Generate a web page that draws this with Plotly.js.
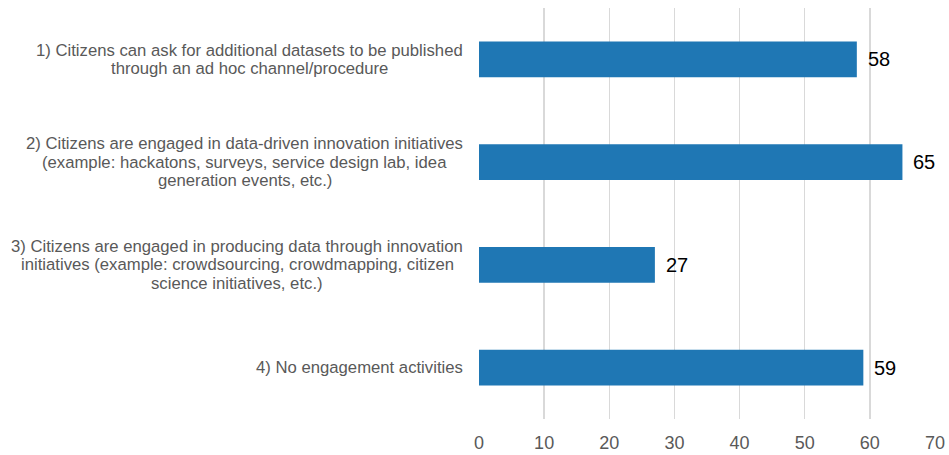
<!DOCTYPE html>
<html>
<head>
<meta charset="utf-8">
<script src="https://cdn.plot.ly/plotly-3.0.1.min.js"></script>
<style>
  html, body { margin: 0; padding: 0; background: #fff; }
  #chart { width: 949px; height: 455px; }
</style>
</head>
<body>
<div id="chart"></div>
<script>
// Citizen engagement activities (count of responses)
const categories = [
	'1) Citizens can ask for additional datasets to be published<br>through an ad hoc channel/procedure',
	'2) Citizens are engaged in data-driven innovation initiatives<br>(example: hackatons, surveys, service design lab, idea<br>generation events, etc.)',
	'3) Citizens are engaged in producing data through innovation<br>initiatives (example: crowdsourcing, crowdmapping, citizen<br>science initiatives, etc.)',
	'4) No engagement activities'
];
const values = [58, 65, 27, 59];
const xTicks = [0, 10, 20, 30, 40, 50, 60, 70];

const font = 'Liberation Sans, Arial, sans-serif';
const labelSize = 16.7;
const lineGap = 18.5;
const labelRight = 16; // gap between label block and plot area

// measure text so each label block is right aligned with its lines centred
const ctx = document.createElement('canvas').getContext('2d');
ctx.font = labelSize + 'px ' + font;

const labelNotes = [];
categories.forEach(c => {
	const lines = c.split('<br>');
	const w = Math.max(...lines.map(ln => ctx.measureText(ln).width));
	lines.forEach((ln, i) => {
		labelNotes.push({
			text: ln,
			xref: 'paper', x: 0,
			yref: 'y', y: c,
			xanchor: 'center', yanchor: 'middle',
			xshift: -labelRight - w / 2,
			yshift: ((lines.length - 1) / 2 - i) * lineGap,
			showarrow: false,
			font: { family: font, size: labelSize, color: '#595959' }
		});
	});
});

// value labels just right of each bar
const valueNotes = values.map((v, i) => ({
	text: String(v),
	xref: 'x', x: v,
	yref: 'y', y: categories[i],
	xanchor: 'left', yanchor: 'middle',
	xshift: 9,
	showarrow: false,
	font: { family: font, size: 20, color: '#000' }
}));

Plotly.newPlot('chart', [{
	type: 'bar',
	orientation: 'h',
	x: values,
	y: categories,
	marker: { color: '#1f77b4' },
	hoverinfo: 'x+y'
}], {
	width: 949,
	height: 455,
	margin: { l: 479, r: 14, t: 8, b: 36 },
	paper_bgcolor: '#fff',
	plot_bgcolor: '#fff',
	bargap: 0.65,
	showlegend: false,
	xaxis: {
		range: [0, 70],
		tickvals: xTicks,
		showgrid: true,
		gridcolor: '#d9d9d9',
		gridwidth: 1.5,
		zeroline: false,
		showline: false,
		ticks: '',
		ticklabelstandoff: 11,
		tickfont: { family: font, size: 18, color: '#595959' }
	},
	yaxis: {
		autorange: 'reversed',
		showticklabels: false,
		showgrid: false,
		zeroline: false,
		showline: false,
		ticks: ''
	},
	annotations: labelNotes.concat(valueNotes)
}, { displayModeBar: false, staticPlot: true });
</script>
</body>
</html>
